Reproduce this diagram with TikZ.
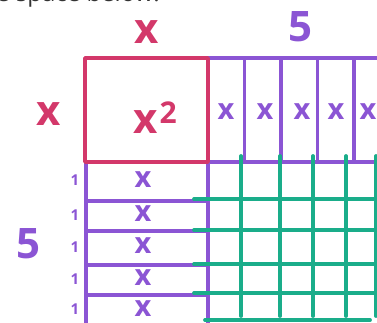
\documentclass[tikz,border=0pt]{standalone}
\usepackage{fontspec}
\setsansfont{Open Sans}
\definecolor{sqred}{HTML}{D3386A}
\definecolor{strip}{HTML}{8B55D4}
\definecolor{unit}{HTML}{1AAD8A}
\definecolor{textmain}{HTML}{333333}
\usetikzlibrary{positioning}

\begin{document}
\begin{tikzpicture}[
        x=1pt, y=-1pt,
        font=\sffamily,
        pen/.style={line width=3.8pt, line cap=round, line join=round},
        sqline/.style={pen, draw=sqred},
        stripline/.style={pen, draw=strip},
        unitline/.style={pen, draw=unit},
        biglbl/.style={inner sep=0pt, font=\sffamily\bfseries\fontsize{42}{42}\selectfont},
        striplbl/.style={inner sep=0pt, text=strip, font=\sffamily\bfseries\fontsize{29}{29}\selectfont},
        onelbl/.style={inner sep=0pt, text=strip, font=\sffamily\bfseries\fontsize{15}{15}\selectfont}
    ]
    \useasboundingbox (0,0) rectangle (377,322);

    % caption line, cut by the page top
    \node[anchor=base west, inner sep=0pt, text=textmain, font=\sffamily\fontsize{24}{24}\selectfont] (caption) at (-4,1.5) {e space below:};

    % Top strips: x by 1
    \foreach \i in {1,...,5}
        \node[stripline, minimum width=36.5pt, minimum height=104pt, inner sep=0pt] (ts\i) at (208+36.5*\i-18.25, 110) {};
    \foreach \i/\px in {1/226, 2/265, 3/302, 4/336, 5/368}
        \node[striplbl] (tx\i) at (\px, 112) {x};

    % Bottom strips: 1 by x
    \foreach \a/\b [count=\i] in {162/201, 201/231, 231/265, 265/295, 295/326} {
        \draw[stripline] (86,\a) rectangle (208,\b);
        \node[striplbl] (bx\i) at (143, {(\a+\b)/2-2}) {x};
        \node[onelbl] (one\i) at (75, {(\a+\b)/2-1}) {1};
    }

    % Square: x by x
    \node[sqline, minimum width=123pt, minimum height=104pt, inner sep=0pt] (sq) at (146.5,110) {};
    \node[biglbl, text=sqred] (sqx) at (146,122) {x};
    \node[inner sep=0pt, text=sqred, font=\sffamily\bfseries\fontsize{30}{30}\selectfont, right=1pt of sqx.north east, yshift=-2pt] (sqtwo) {2};

    % Side lengths
    \node[biglbl, text=sqred, above=12pt of sq.north] (topx) {x};
    \node[biglbl, text=sqred, left=22pt of sq.west, yshift=-4pt] (leftx) {x};
    \node[biglbl, text=strip] (topfive) at (300,27) {5};
    \node[biglbl, text=strip] (leftfive) at (28,244) {5};

    % Unit squares: 1 by 1
    \foreach \px in {241, 280, 313, 346, 376}
        \draw[unitline] (\px,156) -- (\px,316);
    \foreach \py in {199, 230, 264, 293}
        \draw[unitline] (194,\py) -- (380,\py);
    \draw[unitline] (205,320) -- (370,320);

\end{tikzpicture}
\end{document}
